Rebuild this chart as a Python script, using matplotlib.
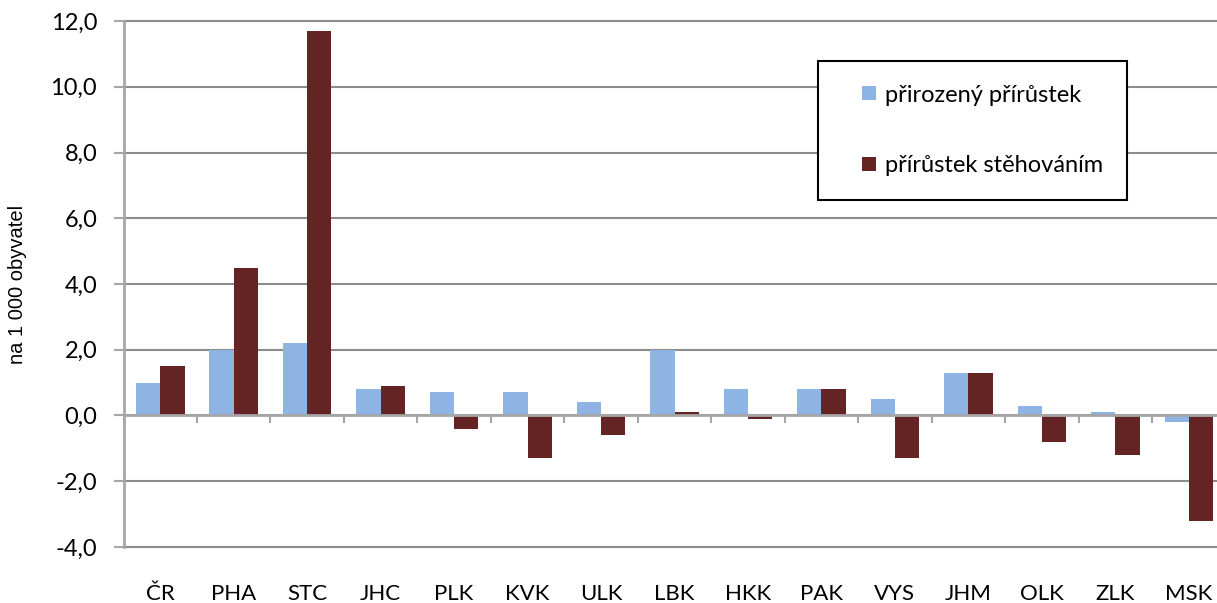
import numpy as np
import matplotlib
matplotlib.use('Agg')
import matplotlib.pyplot as plt
from matplotlib.patches import Rectangle
from matplotlib.legend_handler import HandlerPatch
from matplotlib.container import BarContainer

# kraje a hodnoty (na 1 000 obyvatel)
regions = ['ČR', 'PHA', 'STC', 'JHC', 'PLK', 'KVK', 'ULK', 'LBK', 'HKK',
           'PAK', 'VYS', 'JHM', 'OLK', 'ZLK', 'MSK']
natural = [1.0, 2.0, 2.2, 0.8, 0.7, 0.7, 0.4, 2.0, 0.8, 0.8, 0.5, 1.3, 0.3, 0.1, -0.2]
migration = [1.5, 4.5, 11.7, 0.9, -0.4, -1.3, -0.6, 0.1, -0.1, 0.8, -1.3, 1.3, -0.8, -1.2, -3.2]
series_names = ['přirozený přírůstek', 'přírůstek stěhováním']
y_ticks = [-4, -2, 0, 2, 4, 6, 8, 10, 12]

blue = '#8EB4E3'
red = '#632423'
grid_col = '#8C8C8C'
axis_col = '#A6A6A6'

fig = plt.figure(figsize=(12.17, 6.03), dpi=100)
ax = fig.add_axes([0.1015, 0.093, 0.9055, 0.872])

x = np.arange(len(regions))
w = 0.33
ax.bar(x - w / 2, natural, w, color=blue, label=series_names[0], zorder=3)
ax.bar(x + w / 2, migration, w, color=red, label=series_names[1], zorder=3)

ax.set_xlim(-0.5, len(regions) - 0.5)
ax.set_ylim(-4, 12)
ax.set_yticks(y_ticks)
ax.set_yticklabels([f'{v:.1f}'.replace('.', ',') for v in y_ticks],
                   fontsize=17, family='Lato')
ax.yaxis.grid(True, color=grid_col, linewidth=1.5, zorder=0)
for gl in ax.get_ygridlines():
    gl.set_clip_on(False)
ax.tick_params(axis='y', length=7, width=1.5, color=axis_col, pad=12)

# osa x na nule, znacky mezi kategoriemi
for s in ['top', 'right']:
    ax.spines[s].set_visible(False)
ax.spines['left'].set_color(axis_col)
ax.spines['left'].set_linewidth(2)
ax.spines['bottom'].set_position(('data', 0))
ax.spines['bottom'].set_color(axis_col)
ax.spines['bottom'].set_linewidth(2)
ax.spines['bottom'].set_zorder(4)
ax.set_xticks(np.arange(len(regions) + 1) - 0.5)
ax.set_xticklabels([])
ax.tick_params(axis='x', length=6, width=1.5, color=axis_col, direction='out')

# popisky kategorii dole
sec = ax.secondary_xaxis('bottom')
sec.set_xticks(x)
sec.set_xticklabels(regions, fontsize=16, family='Lato')
sec.tick_params(length=0, pad=27)
sec.spines['bottom'].set_visible(False)

ax.set_ylabel('na 1 000 obyvatel', fontsize=14.5,
              family=['Liberation Sans Narrow', 'Liberation Sans'])
ax.yaxis.set_label_coords(-0.088, 0.5)


# ctverecek v legende zarovnany vpravo
def square(legend, orig_handle, xdescent, ydescent, width, height, fontsize):
    s = 0.6 * fontsize
    return Rectangle((width - s - xdescent, (height - s) / 2 - ydescent), s, s)


def first_child(tgt, src):
    tgt.update_from(src.patches[0])


leg = ax.legend(loc='upper left', bbox_to_anchor=(0.630, 0.924), frameon=True,
                fancybox=False, edgecolor='black', framealpha=1,
                prop={'family': 'Lato', 'size': 17}, handlelength=1.46,
                handleheight=0.7, labelspacing=2.1, borderpad=1.0,
                handletextpad=0.38, borderaxespad=0,
                handler_map={BarContainer: HandlerPatch(patch_func=square,
                                                        update_func=first_child)})
leg.get_frame().set_linewidth(1.5)

plt.savefig('out.png', dpi=100)
